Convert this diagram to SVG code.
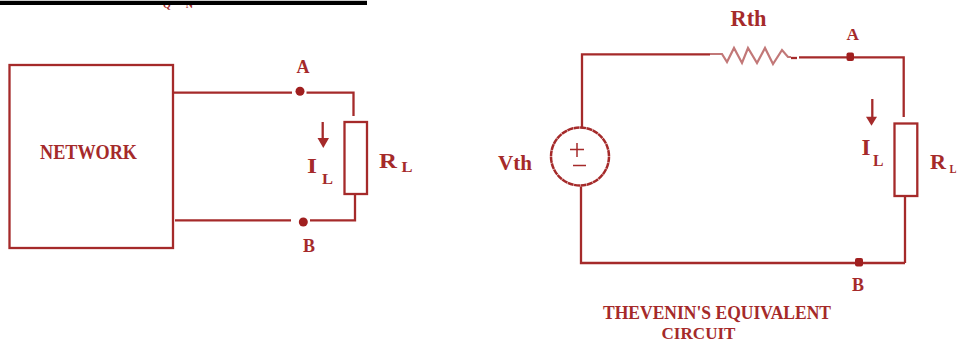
<svg xmlns="http://www.w3.org/2000/svg" width="959" height="343" viewBox="0 0 959 343">
<style>
.w{fill:none;stroke:#a52a2a;stroke-width:2.300}
.d{fill:#a01f1f;stroke:none}
.t{font-family:"Liberation Serif",serif;font-weight:bold;fill:#a52a2a}
.a{fill:#a52a2a;stroke:none}
</style>
<rect width="959" height="343" fill="#fff"/>
<text class="t" x="163" y="8" font-size="10" textLength="30" lengthAdjust="spacing">Q N</text>
<rect x="0" y="0.800" width="367" height="4.200" fill="#000"/>
<g id="network"><rect class="w" x="9.500" y="65" width="163.500" height="183"/><text class="t" x="40" y="159" font-size="20" textLength="97" lengthAdjust="spacingAndGlyphs">NETWORK</text></g>
<g id="left-connectors" class="w">
<path d="M172 92.700H292M306.500 92.700H353.500V116M355 195V220.400H310M291 220.400H175"/>
<path d="M322.700 122V141"/>
</g>
<path class="a" d="M317.500 138h11.500l-5.700 10z"/>
<g id="left-node-a"><circle class="d" cx="300" cy="91.300" r="4.500"/><text class="t" x="296.500" y="73" font-size="18" textLength="13" lengthAdjust="spacingAndGlyphs">A</text></g>
<g id="left-node-b"><circle class="d" cx="303.300" cy="222" r="4.500"/><text class="t" x="303" y="252" font-size="18" textLength="12" lengthAdjust="spacingAndGlyphs">B</text></g>
<g id="left-load"><rect class="w" x="344.500" y="122" width="22.500" height="72"/>
<text class="t" x="379" y="168" font-size="21" textLength="18" lengthAdjust="spacingAndGlyphs">R</text><text class="t" x="401.500" y="172" font-size="15" textLength="11" lengthAdjust="spacingAndGlyphs">L</text></g>
<g id="left-current"><text class="t" x="307" y="173" font-size="22" textLength="10" lengthAdjust="spacingAndGlyphs">I</text><text class="t" x="322" y="184" font-size="15" textLength="11" lengthAdjust="spacingAndGlyphs">L</text></g>

<g id="source"><circle cx="580" cy="156.500" r="29" fill="#fff" stroke="#a52a2a" stroke-width="2.500" stroke-dasharray="6 .5"/>
<path fill="none" stroke="#a52a2a" stroke-width="1.500" d="M577 143V157M570 149.500H584M573 165.500H586"/>
<text class="t" x="498" y="170" font-size="22" textLength="34" lengthAdjust="spacingAndGlyphs">Vth</text></g>
<g id="right-connectors" class="w">
<path d="M582 127V54.300H710M799 57.300H847M853 57.300H903.700V117M905 196V263M581 186.500V263H905"/>
<path d="M797 58H791"/>
<path d="M872.300 99V119"/>
</g>
<path class="a" d="M866 116.700h11l-5.500 9z"/>
<g id="rth"><path fill="none" stroke="#c27878" stroke-width="2.200" d="M710 54H722L727 62 734 48 742 63 748 48 757 63 765 48 773 64 782 50 788 57H791"/><text class="t" x="730.500" y="25.500" font-size="23" textLength="36" lengthAdjust="spacingAndGlyphs">Rth</text></g>
<g id="right-node-a"><rect class="d" x="846.500" y="52.500" width="7.500" height="8.500" rx="2"/><text class="t" x="846.500" y="40" font-size="17" textLength="12.500" lengthAdjust="spacingAndGlyphs">A</text></g>
<g id="right-node-b"><rect class="d" x="855" y="258" width="8" height="8.500" rx="2"/><text class="t" x="852" y="291" font-size="18" textLength="12" lengthAdjust="spacingAndGlyphs">B</text></g>
<g id="right-load"><rect class="w" x="894.500" y="123.500" width="22.800" height="72.500"/>
<text class="t" x="930" y="169" font-size="21" textLength="16" lengthAdjust="spacingAndGlyphs">R</text><text class="t" x="949.500" y="173" font-size="13" textLength="7" lengthAdjust="spacingAndGlyphs">L</text></g>
<g id="right-current"><text class="t" x="861.500" y="155" font-size="23" textLength="9" lengthAdjust="spacingAndGlyphs">I</text><text class="t" x="873" y="166" font-size="16" textLength="10.500" lengthAdjust="spacingAndGlyphs">L</text></g>
<g id="caption"><text class="t" x="603" y="319" font-size="19" textLength="228" lengthAdjust="spacingAndGlyphs">THEVENIN'S EQUIVALENT</text><text class="t" x="661.500" y="339.300" font-size="17" textLength="74" lengthAdjust="spacingAndGlyphs">CIRCUIT</text></g>
</svg>
